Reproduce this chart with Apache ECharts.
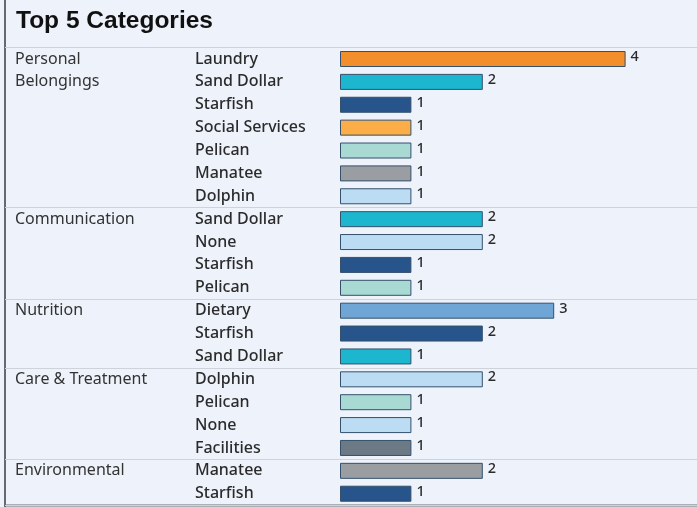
<!DOCTYPE html>
<html>
<head>
<meta charset="utf-8">
<title>Top 5 Categories</title>
<script src="https://cdn.jsdelivr.net/npm/echarts@6/dist/echarts.min.js"></script>
<style>
  html, body { margin: 0; padding: 0; background: #eef2fb; }
  #chart { width: 697px; height: 507px; }
</style>
</head>
<body>
<div id="chart"></div>
<script>
// Groups (top 5 categories) and the wrapped lines of their labels
const groups = ['Personal Belongings', 'Communication', 'Nutrition', 'Care & Treatment', 'Environmental'];
const groupLabelLines = [['Personal', 'Belongings'], ['Communication'], ['Nutrition'], ['Care & Treatment'], ['Environmental']];

// Sub-categories and counts inside each group
const personalItems = ['Laundry', 'Sand Dollar', 'Starfish', 'Social Services', 'Pelican', 'Manatee', 'Dolphin'];
const personalCounts = [4, 2, 1, 1, 1, 1, 1];
const communicationItems = ['Sand Dollar', 'None', 'Starfish', 'Pelican'];
const communicationCounts = [2, 2, 1, 1];
const nutritionItems = ['Dietary', 'Starfish', 'Sand Dollar'];
const nutritionCounts = [3, 2, 1];
const careItems = ['Dolphin', 'Pelican', 'None', 'Facilities'];
const careCounts = [2, 1, 1, 1];
const environmentalItems = ['Manatee', 'Starfish'];
const environmentalCounts = [2, 1];

// Colour per sub-category
const itemColors = {
  'Laundry': '#f28e2b',
  'Sand Dollar': '#1cb7cf',
  'Starfish': '#27548a',
  'Social Services': '#fbad47',
  'Pelican': '#a9d9d3',
  'Manatee': '#9a9ea2',
  'Dolphin': '#bcdcf3',
  'None': '#bcdcf3',
  'Dietary': '#6fa6d5',
  'Facilities': '#6c7a86'
};

const groupItems = [personalItems, communicationItems, nutritionItems, careItems, environmentalItems];
const groupCounts = [personalCounts, communicationCounts, nutritionCounts, careCounts, environmentalCounts];

// Flatten into rows
const rowNames = [];
const rowValues = [];
const rowGroupText = [];
const groupStarts = [];
groupItems.forEach(function (items, g) {
  groupStarts.push(rowNames.length);
  items.forEach(function (name, i) {
    rowNames.push(name);
    rowValues.push(groupCounts[g][i]);
    rowGroupText.push(groupLabelLines[g][i] || '');
  });
});

const rowCount = rowNames.length;
const rowHeight = 22.88;
const gridTop = 47.56;
const gridHeight = rowHeight * rowCount;
const textColor = '#333333';
const uiFont = '"Noto Sans", "Open Sans", sans-serif';

const chart = echarts.init(document.getElementById('chart'), null, { renderer: 'canvas' });

chart.setOption({
  backgroundColor: '#eef2fb',
  animation: false,
  title: {
    text: 'Top 5 Categories',
    left: 11,
    top: 4,
    textStyle: {
      fontFamily: '"Liberation Sans", Arial, sans-serif',
      fontWeight: 'bold',
      fontSize: 24.5,
      color: '#111111'
    }
  },
  grid: [
    { left: 340, top: gridTop, width: 357.5, height: gridHeight, containLabel: false },
    { left: 5, right: 0, top: gridTop, height: gridHeight, containLabel: false }
  ],
  xAxis: [
    { type: 'value', gridIndex: 0, min: 0, max: 5, show: false },
    { type: 'value', gridIndex: 1, min: 0, max: 1, show: false }
  ],
  yAxis: [
    {
      type: 'category',
      gridIndex: 0,
      data: rowNames,
      inverse: true,
      axisLine: { show: false },
      axisTick: { show: false },
      splitLine: { show: false },
      axisLabel: {
        align: 'left',
        margin: 145,
        padding: [4, 0, 0, 0],
        fontFamily: uiFont,
        fontSize: 16,
        fontWeight: 500,
        color: '#2b2b2b'
      }
    },
    {
      type: 'category',
      gridIndex: 1,
      data: rowGroupText,
      inverse: true,
      offset: -10,
      axisLine: { show: false },
      axisTick: { show: false },
      axisLabel: {
        align: 'left',
        margin: 0,
        interval: 0,
        padding: [4, 0, 0, 0],
        fontFamily: uiFont,
        fontSize: 16,
        color: textColor
      },
      splitLine: {
        show: true,
        interval: function (index) { return groupStarts.indexOf(index) !== -1; },
        lineStyle: { color: '#cdd2db', width: 1 }
      }
    }
  ],
  series: [
    {
      type: 'bar',
      xAxisIndex: 0,
      yAxisIndex: 0,
      data: rowValues,
      barWidth: 16,
      itemStyle: {
        color: function (p) { return itemColors[rowNames[p.dataIndex]]; },
        borderColor: '#34506b',
        borderWidth: 1
      },
      label: {
        show: true,
        position: 'right',
        distance: 5,
        offset: [0, -2],
        fontFamily: uiFont,
        fontSize: 14.5,
        fontWeight: 500,
        color: '#2b2b2b'
      }
    }
  ],
  graphic: [
    { type: 'line', shape: { x1: 5, y1: 0, x2: 5, y2: 507 }, style: { stroke: '#666a70', lineWidth: 2 } },
    { type: 'line', shape: { x1: 5, y1: 505.5, x2: 697, y2: 505.5 }, style: { stroke: '#666a70', lineWidth: 2 } }
  ]
});
</script>
</body>
</html>
